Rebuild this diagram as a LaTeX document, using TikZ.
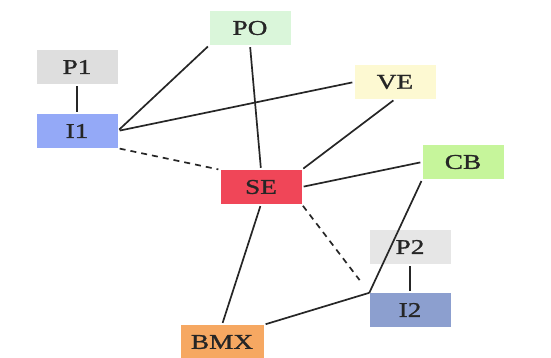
\documentclass[tikz,border=0pt]{standalone}
\usepackage{fontspec}
\newfontfamily\widefont[FakeStretch=1.3,FakeBold=1.2]{Liberation Serif}
\definecolor{cP1}{HTML}{DEDEDE}
\definecolor{cI1}{HTML}{94A9F7}
\definecolor{cPO}{HTML}{DAF6DA}
\definecolor{cVE}{HTML}{FDF9D2}
\definecolor{cCB}{HTML}{C6F59B}
\definecolor{cSE}{HTML}{F04658}
\definecolor{cP2}{HTML}{E6E6E6}
\definecolor{cI2}{HTML}{8C9FCF}
\definecolor{cBMX}{HTML}{F6A862}
\begin{document}
\begin{tikzpicture}[x=1pt,y=-1pt,
  box/.style={rectangle,minimum width=81pt,minimum height=34pt,inner sep=0pt,
    font=\widefont\fontsize{21}{21}\selectfont,text=black!85},
  link/.style={line width=1.7pt,black!85,shorten >=2pt,shorten <=2pt},
  dlink/.style={link,dashed,dash pattern=on 6pt off 5pt}]
\useasboundingbox (0,0) rectangle (551,358);
\node[box,fill=cP1] (P1) at (77,67) {P1};
\node[box,fill=cI1] (I1) at (77,131) {I1};
\node[box,fill=cPO] (PO) at (250,28) {PO};
\node[box,fill=cVE] (VE) at (395,82) {VE};
\node[box,fill=cCB] (CB) at (463,162) {CB};
\node[box,fill=cSE] (SE) at (261,187) {SE};
\node[box,fill=cP2] (P2) at (410,247) {P2};
\node[box,fill=cI2] (I2) at (410,310) {I2};
\node[box,fill=cBMX,minimum width=83pt] (BMX) at (222,342) {BMX};
\draw[link] (P1.south) -- (I1.north);
\draw[link] (P2.south) -- (I2.north);
\draw[link] (I1.east) -- (PO.south west);
\draw[link] (I1.east) -- (VE.west);
\draw[dlink] (I1.south east) -- (SE.north west);
\draw[link] (PO.south) -- (SE.north);
\draw[link] (VE.south) -- (SE.north east);
\draw[link] (CB.west) -- (SE.east);
\draw[dlink,shorten >=16pt] (SE.south east) -- (I2.north west);
\draw[link] (SE.south) -- (BMX.north);
\draw[link,shorten >=0pt] (BMX.north east) -- (I2.north west);
\draw[link,shorten <=0pt] (I2.north west) -- (CB.south west);
\end{tikzpicture}
\end{document}
